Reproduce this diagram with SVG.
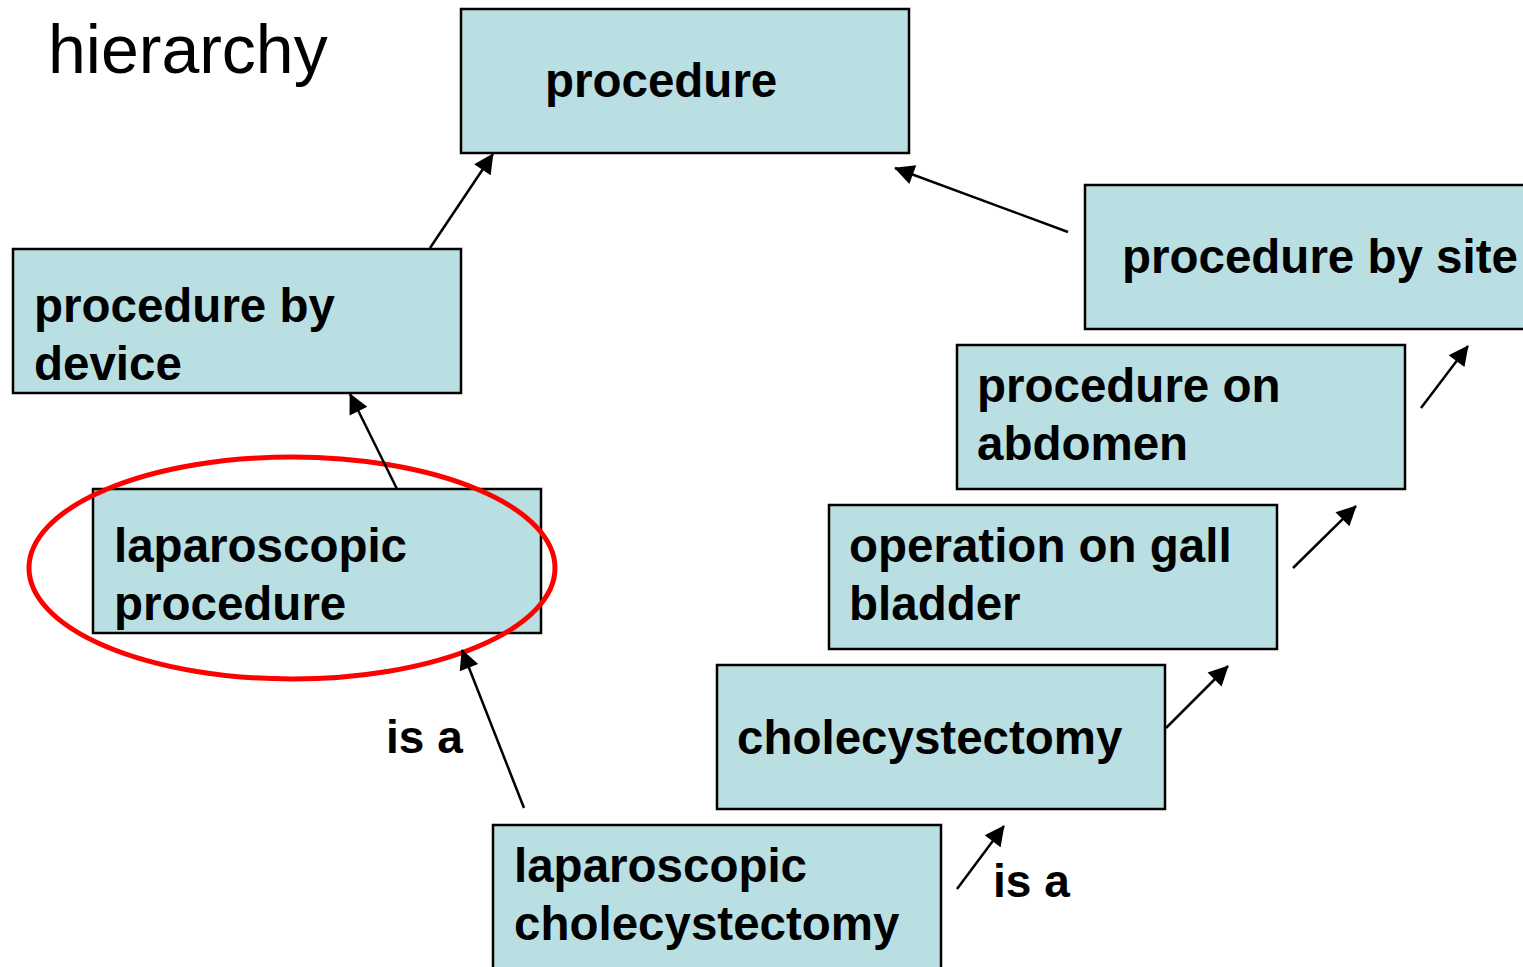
<svg xmlns="http://www.w3.org/2000/svg" width="1523" height="967" viewBox="0 0 1523 967">
<style>
.box{fill:#B9DFE3;stroke:#000;stroke-width:2.5}
.t{font-family:"Liberation Sans",Arial,sans-serif;font-weight:bold;font-size:47.5px;fill:#000}
.lbl{font-family:"Liberation Sans",Arial,sans-serif;font-weight:bold;font-size:46px;fill:#000}
.title{font-family:"Liberation Sans",Arial,sans-serif;font-size:68px;fill:#000}
.c{stroke:#000;stroke-width:2.5;fill:none;marker-end:url(#ah)}
</style>
<defs>
<marker id="ah" viewBox="0 0 10 10" refX="9" refY="5" markerWidth="9" markerHeight="9" markerUnits="userSpaceOnUse" orient="auto" style="overflow:visible">
<path d="M0,0 L10,5 L0,10 z" fill="#000" transform="scale(2.2) translate(-5.5,-2.73)"/>
</marker>
</defs>
<rect width="1523" height="967" fill="#fff"/>
<text class="title" x="48" y="73">hierarchy</text>
<g id="procedure"><rect class="box" x="461" y="9" width="448" height="144"/><text class="t" x="545" y="97">procedure</text></g>
<g id="procedure-by-device"><rect class="box" x="13" y="249" width="448" height="144"/><text class="t" x="34" y="322">procedure by</text><text class="t" x="34" y="380">device</text></g>
<g id="laparoscopic-procedure"><rect class="box" x="93" y="489" width="448" height="144"/><text class="t" x="114" y="562">laparoscopic</text><text class="t" x="114" y="620">procedure</text></g>
<g id="laparoscopic-cholecystectomy"><rect class="box" x="493" y="825" width="448" height="160"/><text class="t" x="514" y="882">laparoscopic</text><text class="t" x="514" y="940">cholecystectomy</text></g>
<g id="cholecystectomy"><rect class="box" x="717" y="665" width="448" height="144"/><text class="t" x="737" y="754">cholecystectomy</text></g>
<g id="operation-on-gall-bladder"><rect class="box" x="829" y="505" width="448" height="144"/><text class="t" x="849" y="562">operation on gall</text><text class="t" x="849" y="620">bladder</text></g>
<g id="procedure-on-abdomen"><rect class="box" x="957" y="345" width="448" height="144"/><text class="t" x="977" y="402">procedure on</text><text class="t" x="977" y="460">abdomen</text></g>
<g id="procedure-by-site"><rect class="box" x="1085" y="185" width="460" height="144"/><text class="t" x="1122" y="273">procedure by site</text></g>
<g id="highlight"><ellipse cx="292" cy="568" rx="263" ry="111" fill="none" stroke="#f00" stroke-width="5"/></g>
<g id="connectors">
<line class="c" x1="430" y1="248" x2="493" y2="154"/>
<line class="c" x1="397" y1="489" x2="350" y2="394"/>
<line class="c" x1="524" y1="808" x2="462" y2="650"/>
<line class="c" x1="1068" y1="232" x2="895" y2="168"/>
<line class="c" x1="1421" y1="408" x2="1468" y2="346"/>
<line class="c" x1="1293" y1="568" x2="1356" y2="506"/>
<line class="c" x1="1166" y1="728" x2="1228" y2="666"/>
<line class="c" x1="957" y1="889" x2="1004" y2="826"/>
</g>
<text class="lbl" x="386" y="753">is a</text>
<text class="lbl" x="993" y="897">is a</text>
</svg>
